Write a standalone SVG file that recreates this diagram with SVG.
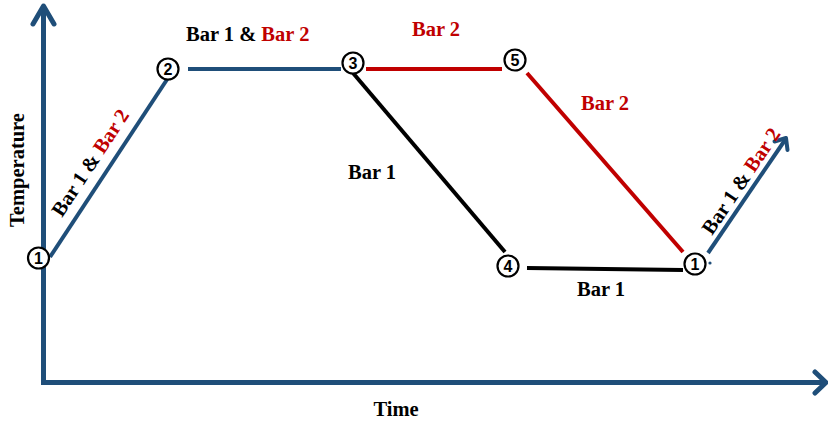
<svg xmlns="http://www.w3.org/2000/svg" width="828" height="423" viewBox="0 0 828 423">
  <style>
    .lbl { font-family: "Liberation Serif", "Times New Roman", serif; font-weight: bold; font-size: 20.5px; fill: #000; }
    .red { fill: #C00000; }
    .axis { stroke: #1F4E79; stroke-width: 5; fill: none; }
    .head { stroke: #1F4E79; stroke-width: 5; fill: none; stroke-linecap: round; stroke-linejoin: round; }
    .seg { stroke-width: 4; fill: none; }
    .blue { stroke: #1F4E79; }
    .rline { stroke: #C00000; }
    .black { stroke: #000; }
    .node circle { fill: #fff; stroke: #000; stroke-width: 2.2; }
    .node text { font-family: "Liberation Sans", Arial, sans-serif; font-weight: bold; font-size: 16px; text-anchor: middle; fill: #000; }
  </style>

  <!-- axes -->
  <g id="axes">
    <polyline class="axis" points="43.5,8 43.5,382.5 824,382.5"/>
    <polyline class="head" points="33,24 43.5,6 54,24"/>
    <polyline class="head" points="815,372 826,382.5 815,393"/>
    <text class="lbl" x="396" y="416" text-anchor="middle">Time</text>
    <text class="lbl" x="0" y="0" font-size="19.5" text-anchor="middle" transform="translate(24,170) rotate(-90)">Temperature</text>
  </g>

  <!-- connectors -->
  <g id="connectors">
    <line class="seg blue" x1="50" y1="257" x2="168" y2="78"/>
    <line class="seg blue" x1="188" y1="69" x2="341" y2="69"/>
    <line class="seg rline" x1="366" y1="69" x2="502" y2="69"/>
    <line class="seg black" x1="353" y1="73" x2="505" y2="252"/>
    <line class="seg rline" x1="527" y1="73" x2="683" y2="252"/>
    <line class="seg black" x1="527" y1="268" x2="683" y2="270"/>
    <line class="seg blue" x1="708" y1="253" x2="785" y2="140"/>
    <polyline class="seg blue" stroke-linecap="round" stroke-linejoin="round" points="774.5,141.5 786,138 787.5,150"/>
    <circle cx="710" cy="263" r="1.6" fill="#1F4E79"/>
  </g>

  <!-- segment labels -->
  <g id="labels">
    <text class="lbl" x="186" y="41">Bar 1 &amp; <tspan class="red">Bar 2</tspan></text>
    <text class="lbl red" x="412" y="36">Bar 2</text>
    <text class="lbl" x="348" y="179">Bar 1</text>
    <text class="lbl red" x="581" y="110">Bar 2</text>
    <text class="lbl" x="577" y="296">Bar 1</text>
    <text class="lbl" transform="translate(62,218) rotate(-56.6)">Bar 1 &amp; <tspan class="red">Bar 2</tspan></text>
    <text class="lbl" transform="translate(712,236) rotate(-55.9)">Bar 1 &amp; <tspan class="red">Bar 2</tspan></text>
  </g>

  <!-- state nodes -->
  <g id="node-1a" class="node"><circle cx="38.5" cy="258" r="10.5"/><text x="38.5" y="263.8">1</text></g>
  <g id="node-2" class="node"><circle cx="168" cy="69" r="10.5"/><text x="168" y="74.8">2</text></g>
  <g id="node-3" class="node"><circle cx="353" cy="63" r="10.5"/><text x="353" y="68.8">3</text></g>
  <g id="node-5" class="node"><circle cx="515" cy="60" r="10.5"/><text x="515" y="65.8">5</text></g>
  <g id="node-4" class="node"><circle cx="508" cy="266" r="10.5"/><text x="508" y="271.8">4</text></g>
  <g id="node-1b" class="node"><circle cx="695" cy="264" r="10.5"/><text x="695" y="269.8">1</text></g>
</svg>
